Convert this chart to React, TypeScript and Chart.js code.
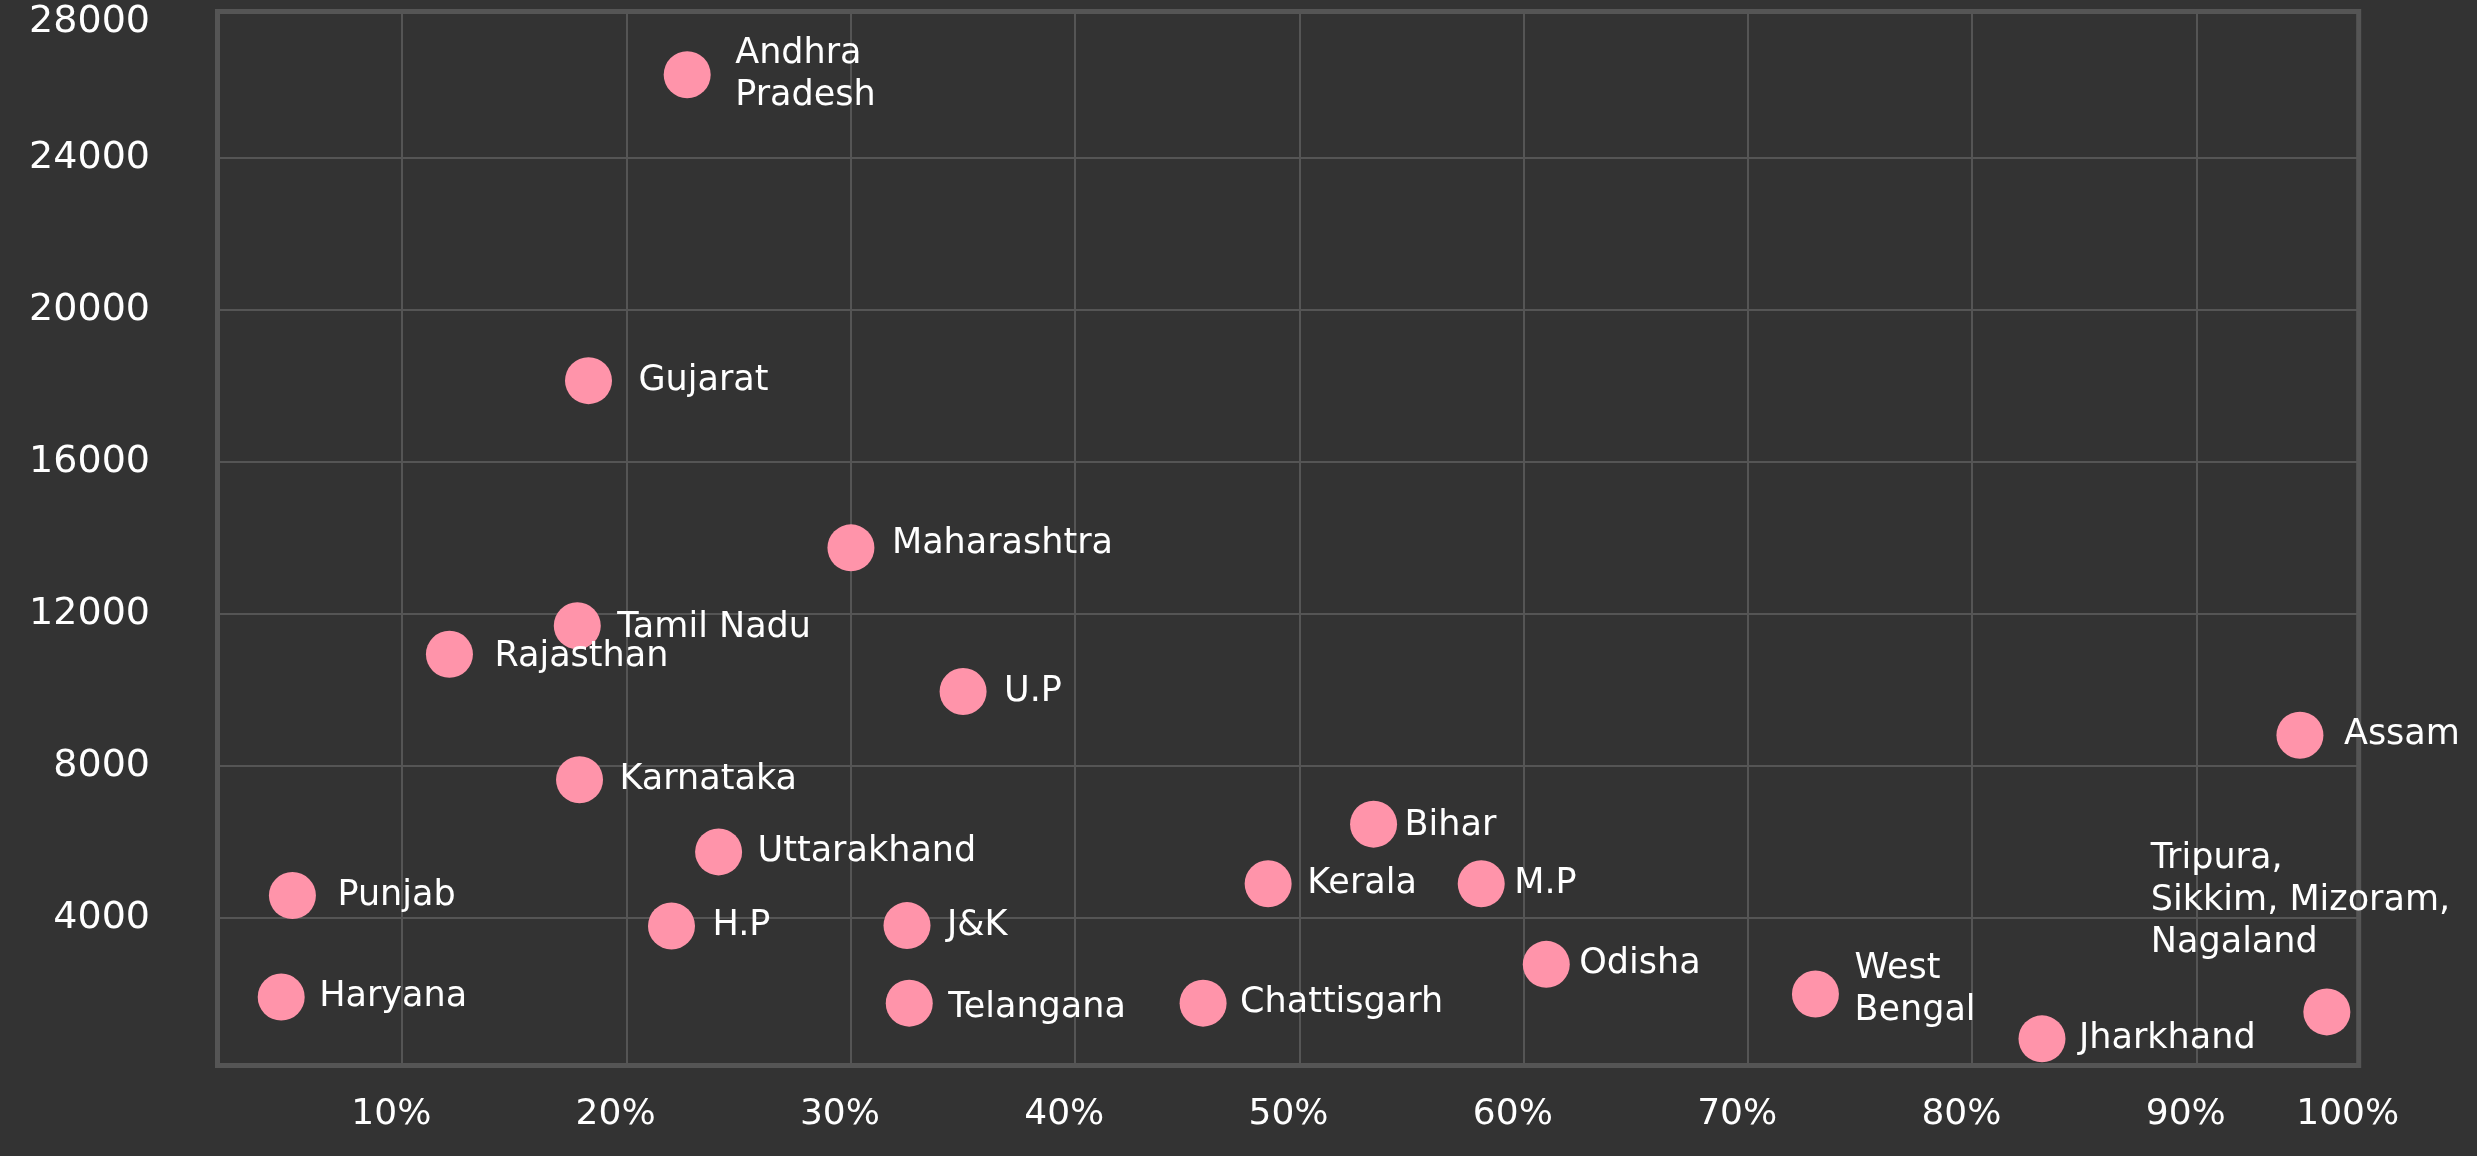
import React, { useEffect, useRef } from 'react';
import { Chart, registerables } from 'chart.js';

Chart.register(...registerables);

// ---- data ----
const STATES = [
  'Andhra\nPradesh', 'Gujarat', 'Maharashtra', 'Tamil Nadu', 'Rajasthan', 'Karnataka',
  'Uttarakhand', 'Punjab', 'H.P', 'Haryana', 'U.P', 'Bihar', 'Kerala', 'M.P', 'J&K',
  'Telangana', 'Chattisgarh', 'Odisha', 'West\nBengal', 'Jharkhand',
  'Tripura,\nSikkim, Mizoram,\nNagaland', 'Assam',
];
const SHARE = [
  22.7, 18.3, 30.0, 17.8, 12.1, 17.9, 24.1, 5.1, 22.0, 4.6, 35.0, 53.3, 48.6, 58.1, 32.5,
  32.6, 45.7, 61.0, 73.0, 83.1, 95.8, 94.6,
];
const VALUE = [
  26200, 18150, 13750, 11700, 10950, 7650, 5750, 4600, 3800, 1930, 9970, 6480, 4910, 4910, 3810,
  1770, 1770, 2790, 2010, 830, 1540, 8820,
];

const X_TICKS = [10, 20, 30, 40, 50, 60, 70, 80, 90];
const X_TICK_LABELS = ['10%', '20%', '30%', '40%', '50%', '60%', '70%', '80%', '90%', '100%'];
const Y_TICKS = [4000, 8000, 12000, 16000, 20000, 24000];
const Y_TICK_LABELS = ['4000', '8000', '12000', '16000', '20000', '24000', '28000'];

const X_MIN = 1.76;
const X_MAX = 97.22;
const Y_MIN = 129;
const Y_MAX = 27863;

// ---- label layout (offsets from each point centre, px) ----
const LABEL_DX = [48, 50, 41, 40, 45, 40, 39, 45, 41, 38, 41, 31, 39, 33, 40, 39, 37, 33, 39, 37, -176, 44];
const LABEL_DY = [0, 0, -4, 2, 3, 0, 0, 0, 0, 0, 0, 2, 0, 0, 0, 5, 0, 0, -4, 0, -111, 0];

const FONT = "'DejaVu Sans', 'Noto Sans', sans-serif";
const W = 2477;
const H = 1156;

const framePlugin = {
  id: 'frame',
  beforeDatasetsDraw(chart: any) {
    const { ctx, chartArea } = chart;
    const { left, top, right, bottom } = chartArea;
    ctx.save();
    ctx.strokeStyle = '#555555';
    ctx.lineWidth = 5;
    ctx.strokeRect(left, top, right - left, bottom - top);
    ctx.restore();
  },
};

const labelPlugin = {
  id: 'pointLabels',
  afterDatasetsDraw(chart: any) {
    const { ctx } = chart;
    const meta = chart.getDatasetMeta(0);
    ctx.save();
    ctx.fillStyle = '#ffffff';
    ctx.font = `35px ${FONT}`;
    ctx.textAlign = 'left';
    ctx.textBaseline = 'middle';
    const lh = 42;
    meta.data.forEach((pt: any, i: number) => {
      const lines = STATES[i].split('\n');
      const n = lines.length;
      lines.forEach((line, j) => {
        ctx.fillText(line, pt.x + LABEL_DX[i], pt.y + LABEL_DY[i] + (j - (n - 1) / 2) * lh);
      });
    });
    ctx.restore();
  },
};

export default function App() {
  const ref = useRef<HTMLCanvasElement>(null);

  useEffect(() => {
    const prev = document.body.style.margin;
    document.body.style.margin = '0';
    const canvas = ref.current!;
    const chart = new Chart(canvas, {
      type: 'scatter',
      data: {
        datasets: [
          {
            data: SHARE.map((x, i) => ({ x, y: VALUE[i] })),
            backgroundColor: '#ff94aa',
            borderWidth: 0,
            pointRadius: 23.5,
            pointHoverRadius: 23.5,
          },
        ],
      },
      options: {
        responsive: false,
        animation: false,
        devicePixelRatio: 1,
        events: [],
        layout: {
          autoPadding: false,
          padding: { top: 11.5, right: 118.3, bottom: 0, left: 0 },
        },
        plugins: {
          legend: { display: false },
          tooltip: { enabled: false },
        },
        scales: {
          x: {
            type: 'linear',
            min: X_MIN,
            max: X_MAX,
            afterBuildTicks: (s: any) => {
              s.ticks = [...X_TICKS, X_MAX].map((v) => ({ value: v }));
            },
            afterFit: (s: any) => {
              s.height = 90.5;
              s.paddingLeft = 0;
              s.paddingRight = 0;
              s.paddingTop = 0;
              s.paddingBottom = 0;
            },
            grid: { color: '#555555', lineWidth: 2, drawTicks: false },
            border: { display: false },
            ticks: {
              autoSkip: false,
              maxRotation: 0,
              minRotation: 0,
              padding: 28,
              labelOffset: -11,
              color: '#ffffff',
              font: { family: FONT, size: 36 },
              callback: (_v: any, i: number) => X_TICK_LABELS[i],
            },
          },
          y: {
            type: 'linear',
            min: Y_MIN,
            max: Y_MAX,
            afterBuildTicks: (s: any) => {
              s.ticks = [...Y_TICKS, Y_MAX].map((v) => ({ value: v }));
            },
            afterFit: (s: any) => {
              s.width = 217.5;
              s.paddingLeft = 0;
              s.paddingRight = 0;
              s.paddingTop = 0;
              s.paddingBottom = 0;
            },
            grid: { color: '#555555', lineWidth: 2, drawTicks: false },
            border: { display: false },
            ticks: {
              autoSkip: false,
              padding: 67.5,
              color: '#ffffff',
              font: { family: FONT, size: 38, lineHeight: '22px' },
              callback: (_v: any, i: number) =>
                i === Y_TICK_LABELS.length - 1 ? ['', Y_TICK_LABELS[i]] : Y_TICK_LABELS[i],
            },
          },
        },
      },
      plugins: [framePlugin, labelPlugin],
    } as any);
    return () => {
      chart.destroy();
      document.body.style.margin = prev;
    };
  }, []);

  return (
    <div style={{ position: 'fixed', left: 0, top: 0, width: W, height: H, background: '#333333' }}>
      <canvas ref={ref} width={W} height={H} style={{ display: 'block', width: W, height: H }} />
    </div>
  );
}
